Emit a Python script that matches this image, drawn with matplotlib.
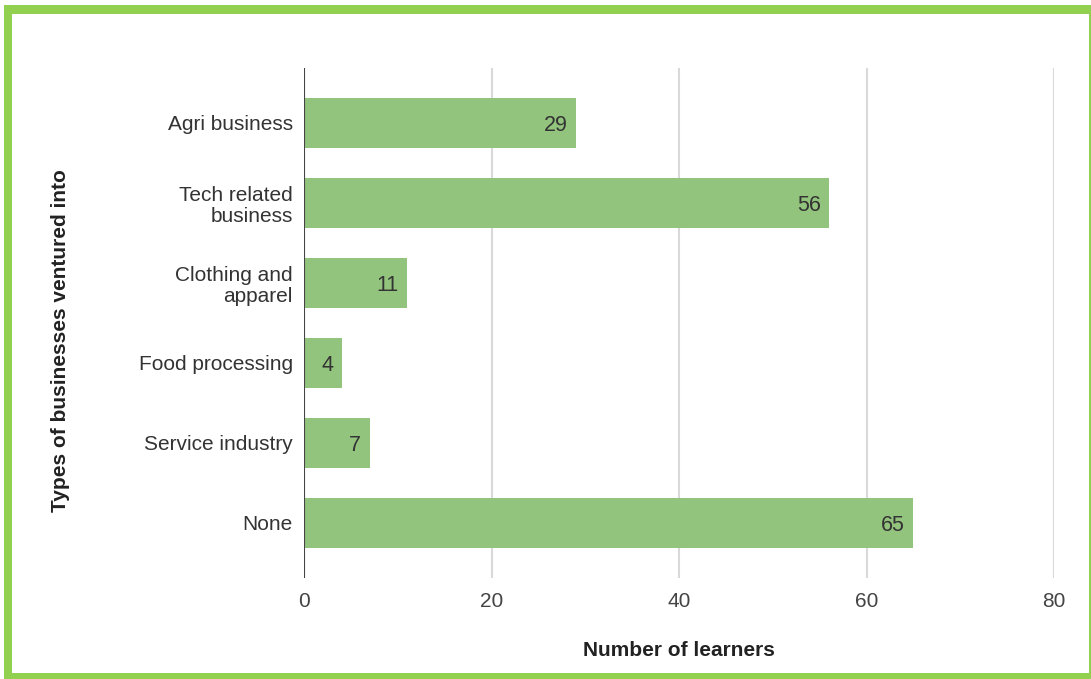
import matplotlib
matplotlib.use("Agg")
import matplotlib.pyplot as plt
from matplotlib.patches import Rectangle

categories = ["Agri business", "Tech related\nbusiness", "Clothing and\napparel",
              "Food processing", "Service industry", "None"]
values = [29, 56, 11, 4, 7, 65]
x_ticks = [0, 20, 40, 60, 80]

plt.rcParams['font.family'] = ['Liberation Sans', 'DejaVu Sans']
W, H = 1091, 679
fig = plt.figure(figsize=(W / 100, H / 100), dpi=100)
fig.patch.set_facecolor("white")

# green frame
green = "#92d050"
def px_rect(x0, y0, x1, y1):
    fig.patches.append(Rectangle((x0 / W, 1 - y1 / H), (x1 - x0) / W, (y1 - y0) / H,
                                 transform=fig.transFigure, facecolor=green,
                                 edgecolor="none", zorder=0))
px_rect(4, 5, 12, 679)
px_rect(4, 5, 1091, 14)
px_rect(1089, 5, 1091, 679)
px_rect(4, 673, 1091, 679)

ax = fig.add_axes([304 / W, 1 - 578 / H, 750 / W, 510 / H])
ypos = list(range(len(categories)))
ax.barh(ypos, values, height=0.63, color="#93c47d", zorder=3)
ax.set_xlim(0, 80)
ax.set_ylim(5.6875, -0.6875)
ax.set_xticks(x_ticks)
ax.set_xticklabels([str(t) for t in x_ticks], fontsize=15, color="#444444")
ax.set_yticks(ypos)
ax.set_yticklabels(categories, fontsize=15, color="#333333", linespacing=1.15)
ax.tick_params(axis="x", length=0, pad=10)
ax.tick_params(axis="y", length=0, pad=8)
for s in ax.spines.values():
    s.set_visible(False)
ax.grid(axis="x", color="#d9d9d9", linewidth=1.5, zorder=1)
ax.axvline(0, color="#444444", linewidth=1.5, zorder=4)

for y, v in zip(ypos, values):
    ax.annotate(str(v), xy=(v, y), xytext=(-6, 0), textcoords="offset points",
                ha="right", va="center_baseline", fontsize=15.5, color="#333333", zorder=5)

fig.text(679 / W, 1 - 651 / H, "Number of learners", ha="center", va="center",
         fontsize=15, fontweight="bold", color="#222222")
fig.text(61 / W, 1 - 341 / H, "Types of businesses ventured into", ha="center",
         va="center", rotation=90, fontsize=15, fontweight="bold", color="#222222")

fig.savefig("out.png", dpi=100, facecolor="white")
